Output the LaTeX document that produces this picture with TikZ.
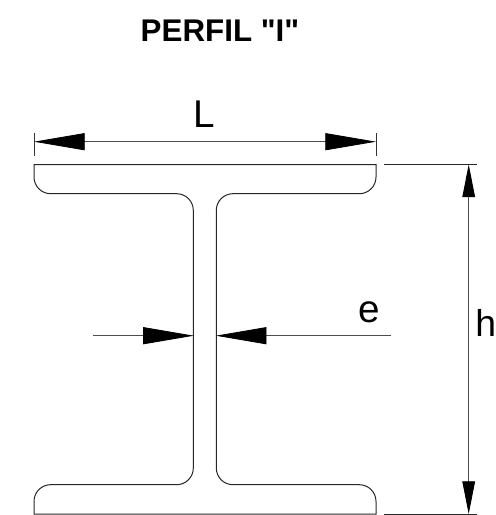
\documentclass[tikz,border=0pt]{standalone}
\usepackage{fontspec}
\setmainfont{Liberation Sans}
\newfontfamily\titlefont{Liberation Sans}
\usetikzlibrary{arrows.meta}
\usetikzlibrary{positioning}

\tikzset{
  outline/.style={line width=0.75pt, color=black!85},
  dimline/.style={line width=0.6pt, color=black!70},
  dimtick/.style={line width=0.7pt, color=black!80},
  dimarrow/.style={dimline, -{Triangle[length=38pt, width=12.8pt, color=black]}},
  dimarrowh/.style={dimline, -{Triangle[length=24.5pt, width=9.5pt, color=black]}},
  measure/.style={inner sep=0pt, font=\fontsize{29}{29}\selectfont},
}

\begin{document}
\begin{tikzpicture}[x=0.75pt, y=-0.75pt]
  \useasboundingbox (0, 0) rectangle (496, 515);

  % section of the beam
  \draw[outline] (34, 164.5) -- (376, 164.5)
    [rounded corners=12.5pt] -- (376, 193.7) -- (216.3, 193.7) -- (216.3, 484.7) -- (376, 484.7)
    [sharp corners] -- (376, 514) -- (34, 514)
    [rounded corners=12.5pt] -- (34, 484.7) -- (193.3, 484.7) -- (193.3, 193.7) -- (34, 193.7)
    [sharp corners] -- cycle;

  \node[font=\titlefont\bfseries\fontsize{23.5}{23.5}\selectfont] (title) at (220, 31) {PERFIL "I"};

  % width
  \coordinate (leftend) at (34, 141.7);
  \coordinate (rightend) at (376, 141.7);
  \coordinate (widthmid) at (205, 141.7);
  \draw[dimarrow] (widthmid) -- (leftend);
  \draw[dimarrow] (widthmid) -- (rightend);
  \draw[dimtick] (34, 133) -- (34, 156);
  \draw[dimtick] (376, 133) -- (376, 156);
  \node[measure] (widthlabel) at (204, 114) {L};

  % thickness
  \coordinate (webleft) at (193.8, 335.7);
  \coordinate (webright) at (215.8, 335.7);
  \coordinate (thickstart) at (93, 335.7);
  \coordinate (thickend) at (391, 335.7);
  \draw[dimarrow] (thickstart) -- (webleft);
  \draw[dimarrow] (thickend) -- (webright);
  \node[measure] (thicklabel) at (369, 312) {e};

  % height
  \coordinate (topend) at (468.7, 164.5);
  \coordinate (botend) at (468.7, 514);
  \coordinate (heightmid) at (468.7, 340);
  \draw[dimarrowh] (heightmid) -- (topend);
  \draw[dimarrowh] (heightmid) -- (botend);
  \draw[dimline, color=black!85] (384, 164.5) -- (477, 164.5);
  \draw[dimline, color=black!85] (384, 514) -- (477, 514);
  \node[measure, font=\fontsize{28}{28}\selectfont, anchor=base west] (heightlabel) at (475, 336) {h};
\end{tikzpicture}
\end{document}
